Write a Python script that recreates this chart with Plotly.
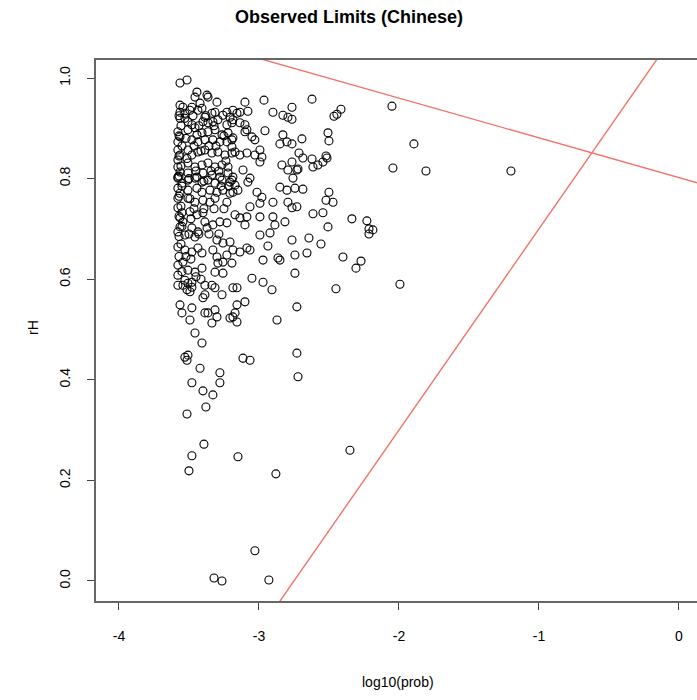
import plotly.graph_objects as go

# log10(prob) and rH values
log_prob = [
    -3.564, -3.514, -3.443, -3.457, -3.371, -3.364, -3.300, -3.421, -3.564, -3.543,
    -3.564, -3.529, -3.493, -3.479, -3.436, -3.407, -3.229, -3.257, -3.336, -3.314,
    -3.564, -3.507, -3.479, -3.457, -3.507, -3.386, -3.400, -3.364, -3.329, -3.293,
    -3.207, -3.193, -3.229, -3.579, -3.564, -3.579, -3.443, -3.407, -3.364, -3.314,
    -3.264, -3.221, -3.479, -3.436, -3.386, -3.329, -3.279, -3.229, -3.193, -3.579,
    -3.564, -3.579, -3.507, -3.479, -3.436, -3.386, -3.336, -3.293, -3.243, -3.193,
    -3.579, -3.564, -3.579, -3.507, -3.457, -3.407, -3.364, -3.314, -3.264, -3.221,
    -3.507, -3.443, -3.400, -3.336, -3.279, -3.221,
    -3.579, -3.550, -3.579, -3.564, -3.579, -3.507, -3.457, -3.407, -3.364, -3.314,
    -3.264, -3.207, -3.507, -3.443, -3.407, -3.350, -3.300, -3.257, -3.207, -3.507,
    -3.457, -3.400, -3.350, -3.314, -3.229, -3.579, -3.550, -3.564, -3.543, -3.564,
    -3.579, -3.529, -3.493, -3.443, -3.400, -3.386, -3.371, -3.329, -3.279, -3.229,
    -3.479, -3.436, -3.457, -3.300, -3.257, -3.207, -3.579, -3.529, -3.479, -3.436,
    -3.407, -3.329, -3.300, -3.257, -3.229, -3.293, -3.314, -3.257, -3.579, -3.543,
    -3.507, -3.457, -3.407, -3.579, -3.529, -3.479,
    -3.579, -3.543, -3.507, -3.479, -3.514, -3.493, -3.386, -3.336, -3.314, -3.386,
    -3.400, -3.264, -3.186, -3.564, -3.550, -3.479, -3.493, -3.386, -3.364, -3.314,
    -3.300, -3.336, -3.207, -3.186, -3.457, -3.407, -3.529, -3.507, -3.514, -3.421,
    -3.279, -3.279, -3.479, -3.400, -3.329,
    -3.379, -3.514, -3.393, -3.479, -3.150, -3.500, -2.879, -3.029, -3.321, -3.264,
    -2.929,
    -3.100, -2.964, -3.186, -3.157, -3.136, -3.079, -2.900, -2.829, -2.793, -2.764,
    -2.764, -3.186, -3.136, -3.100, -3.086, -3.100, -2.957, -3.050, -3.029, -3.186,
    -2.829, -2.850, -2.800, -2.764, -3.193, -3.171, -3.136, -3.086, -3.029, -2.993,
    -2.979, -2.993, -3.114, -3.186, -2.836, -2.764, -2.793, -2.729, -3.064,
    -3.079, -3.193, -3.171, -3.186, -3.150, -2.850, -2.800, -2.743, -2.757, -3.014,
    -2.979, -2.993, -2.900, -3.064, -2.793, -2.764, -2.729, -3.171, -3.136, -3.086,
    -3.100, -2.993, -2.900, -2.886, -2.814, -2.993, -2.921, -2.764, -2.936, -3.186,
    -3.136, -3.086, -3.064, -2.743, -2.971, -2.864, -2.850, -3.193, -2.743, -3.050,
    -2.971,
    -3.157, -2.907, -3.100, -3.157, -3.171, -3.157, -2.871, -2.729, -3.114, -3.064,
    -2.729, -2.721,
    -2.621, -2.464, -2.443, -2.414, -2.693, -2.507, -2.500, -2.714, -2.686, -2.621,
    -2.614, -2.579, -2.543, -2.521, -2.514, -2.721, -2.686, -2.500, -2.521, -2.471,
    -2.614, -2.543, -2.336, -2.229, -2.214, -2.186, -2.214, -2.507, -2.643, -2.557,
    -2.657, -2.400, -2.271, -2.307, -2.450,
    -2.050, -1.893, -2.043, -1.807, -1.200, -1.993, -2.350,
    # overlapping points inside the dense core
    -3.571, -3.557, -3.571, -3.550, -3.571, -3.557, -3.571, -3.550, -3.571, -3.557,
    -3.571, -3.550, -3.571, -3.557, -3.571, -3.550, -3.529, -3.521, -3.514, -3.500,
    -3.493, -3.486, -3.471, -3.464, -3.450, -3.429, -3.414, -3.393, -3.379, -3.357,
    -3.343, -3.321, -3.307, -3.286, -3.271, -3.250, -3.236, -3.214, -3.500, -3.464,
    -3.429, -3.393, -3.357, -3.321, -3.286, -3.250, -3.521, -3.486, -3.450, -3.414,
]

r_h = [
    0.990, 0.996, 0.972, 0.962, 0.966, 0.962, 0.952, 0.950, 0.946, 0.942,
    0.932, 0.930, 0.936, 0.942, 0.936, 0.940, 0.932, 0.926, 0.930, 0.932,
    0.920, 0.913, 0.907, 0.901, 0.897, 0.922, 0.913, 0.911, 0.913, 0.917,
    0.922, 0.911, 0.907, 0.893, 0.883, 0.873, 0.887, 0.891, 0.893, 0.897,
    0.887, 0.891, 0.877, 0.873, 0.877, 0.877, 0.873, 0.873, 0.877, 0.857,
    0.847, 0.837, 0.857, 0.847, 0.853, 0.857, 0.851, 0.853, 0.847, 0.851,
    0.823, 0.813, 0.803, 0.831, 0.823, 0.827, 0.831, 0.823, 0.827, 0.823,
    0.811, 0.803, 0.811, 0.807, 0.803, 0.811,
    0.801, 0.791, 0.781, 0.771, 0.761, 0.797, 0.801, 0.793, 0.797, 0.791,
    0.797, 0.793, 0.777, 0.781, 0.773, 0.777, 0.773, 0.777, 0.771, 0.761,
    0.753, 0.757, 0.753, 0.761, 0.753, 0.742, 0.732, 0.722, 0.714, 0.704,
    0.694, 0.688, 0.734, 0.728, 0.732, 0.714, 0.702, 0.708, 0.714, 0.712,
    0.702, 0.694, 0.684, 0.678, 0.672, 0.674, 0.664, 0.658, 0.654, 0.662,
    0.652, 0.658, 0.644, 0.634, 0.648, 0.632, 0.614, 0.612, 0.628, 0.634,
    0.618, 0.614, 0.622, 0.608, 0.598, 0.594,
    0.588, 0.588, 0.592, 0.584, 0.579, 0.575, 0.588, 0.588, 0.583, 0.569,
    0.563, 0.569, 0.583, 0.549, 0.533, 0.543, 0.519, 0.533, 0.533, 0.539,
    0.525, 0.513, 0.523, 0.525, 0.493, 0.473, 0.445, 0.449, 0.439, 0.423,
    0.414, 0.394, 0.394, 0.378, 0.370,
    0.346, 0.332, 0.272, 0.249, 0.247, 0.219, 0.213, 0.060, 0.006, 0.000,
    0.002,
    0.952, 0.956, 0.936, 0.930, 0.932, 0.934, 0.932, 0.926, 0.922, 0.942,
    0.918, 0.917, 0.911, 0.907, 0.897, 0.893, 0.895, 0.883, 0.877, 0.881,
    0.887, 0.869, 0.873, 0.869, 0.863, 0.853, 0.847, 0.851, 0.847, 0.857,
    0.843, 0.833, 0.817, 0.803, 0.827, 0.833, 0.817, 0.817, 0.801,
    0.793, 0.797, 0.787, 0.773, 0.777, 0.783, 0.777, 0.781, 0.801, 0.773,
    0.763, 0.751, 0.753, 0.744, 0.753, 0.742, 0.744, 0.728, 0.722, 0.724,
    0.708, 0.724, 0.724, 0.708, 0.714, 0.688, 0.692, 0.678, 0.666, 0.658,
    0.654, 0.662, 0.658, 0.648, 0.638, 0.642, 0.638, 0.632, 0.612, 0.602,
    0.594,
    0.583, 0.579, 0.555, 0.549, 0.533, 0.515, 0.519, 0.545, 0.443, 0.439,
    0.453, 0.406,
    0.958, 0.924, 0.928, 0.938, 0.879, 0.891, 0.875, 0.851, 0.841, 0.839,
    0.823, 0.827, 0.833, 0.845, 0.841, 0.819, 0.779, 0.773, 0.757, 0.753,
    0.730, 0.732, 0.720, 0.716, 0.700, 0.698, 0.690, 0.704, 0.682, 0.670,
    0.652, 0.644, 0.636, 0.622, 0.581,
    0.944, 0.869, 0.821, 0.815, 0.815, 0.590, 0.260,
    0.925, 0.905, 0.885, 0.865, 0.845, 0.825, 0.805, 0.785, 0.765, 0.745,
    0.725, 0.705, 0.685, 0.670, 0.645, 0.615, 0.920, 0.880, 0.840, 0.800,
    0.760, 0.720, 0.925, 0.865, 0.815, 0.905, 0.855, 0.795, 0.925, 0.865,
    0.815, 0.905, 0.865, 0.815, 0.785, 0.885, 0.835, 0.785, 0.690, 0.740,
    0.690, 0.740, 0.690, 0.740, 0.690, 0.740, 0.645, 0.640, 0.605, 0.600,
]

# Reference lines (abline-style): intercept, slope
line_intercepts = [0.802, 1.10]
line_slopes = [-0.079, 0.40]

x_ticks = [-4, -3, -2, -1, 0]
y_ticks = [0.0, 0.2, 0.4, 0.6, 0.8, 1.0]

X_RANGE = [-4.164, 0.129]
Y_RANGE = [-0.0398, 1.0358]

fig = go.Figure()

fig.add_trace(go.Scatter(
    x=log_prob, y=r_h, mode="markers",
    marker=dict(symbol="circle-open", size=8, color="black",
                line=dict(width=1.1, color="black")),
    showlegend=False, hoverinfo="x+y",
))

x_ext = [X_RANGE[0] - 1, X_RANGE[1] + 1]
for a, b in zip(line_intercepts, line_slopes):
    fig.add_trace(go.Scatter(
        x=x_ext, y=[a + b * xv for xv in x_ext], mode="lines",
        line=dict(color="rgb(242,115,105)", width=1.4),
        showlegend=False, hoverinfo="skip",
    ))

font_family = "Liberation Sans, Arial, sans-serif"

fig.update_layout(
    width=697, height=700,
    margin=dict(l=96, r=0, t=60, b=99),
    paper_bgcolor="white", plot_bgcolor="white",
    font=dict(family=font_family, size=14, color="black"),
    title=dict(text="<b>Observed Limits (Chinese)</b>", x=349 / 697, xanchor="center",
               y=1 - 17 / 700, yanchor="middle", yref="container",
               font=dict(size=18, family=font_family, color="black")),
    xaxis=dict(range=X_RANGE, tickvals=x_ticks, ticktext=[str(v) for v in x_ticks],
               ticks="outside", ticklen=7, tickcolor="#444", tickwidth=1,
               showline=True, linecolor="#666", linewidth=1.5, mirror=True,
               showgrid=False, zeroline=False, ticklabelstandoff=14,
               tickfont=dict(size=14)),
    yaxis=dict(range=Y_RANGE, tickvals=y_ticks, ticktext=["%.1f" % v for v in y_ticks],
               ticks="outside", ticklen=7, tickcolor="#444", tickwidth=1,
               showline=True, linecolor="#666", linewidth=1.5, mirror=False,
               showgrid=False, zeroline=False, tickangle=-90, ticklabelstandoff=12,
               tickfont=dict(size=14)),
    annotations=[
        dict(text="log10(prob)", x=(398 - 96) / 601, y=(601 - 682) / 541,
             xref="paper", yref="paper", showarrow=False,
             xanchor="center", yanchor="middle", font=dict(size=14)),
        dict(text="rH", x=(33 - 96) / 601, y=(601 - 328) / 541,
             xref="paper", yref="paper", showarrow=False, textangle=-90,
             xanchor="center", yanchor="middle", font=dict(size=14)),
    ],
)

fig.write_html("out.html")
